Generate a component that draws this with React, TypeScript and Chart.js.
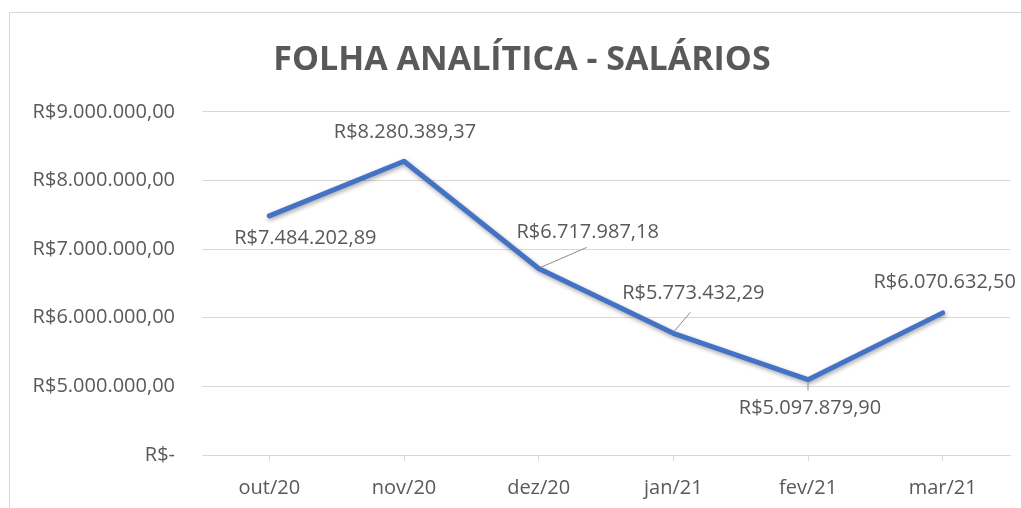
import React, { useEffect, useRef } from "react";
import { Chart, registerables } from "chart.js";

Chart.register(...registerables);

const chartTitle = "FOLHA ANALÍTICA - SALÁRIOS";
const categories = ["out/20", "nov/20", "dez/20", "jan/21", "fev/21", "mar/21"];
const salaries = [7484202.89, 8280389.37, 6717987.18, 5773432.29, 5097879.9, 6070632.5];
const yTickValues = [4000000, 5000000, 6000000, 7000000, 8000000, 9000000];
const yTickLabels = [
  "R$-",
  "R$5.000.000,00",
  "R$6.000.000,00",
  "R$7.000.000,00",
  "R$8.000.000,00",
  "R$9.000.000,00",
];

// data label placement (relative to each point)
const labelOffsets: [number, number][] = [
  [36, 22],
  [1, -29],
  [49, -36],
  [20, -40],
  [2, 29],
  [2, -31],
];
const leaderLines: ([number, number, number, number] | null)[] = [
  null,
  null,
  [2, -1, 48, -21],
  [0, -1, 17, -21],
  [0, 3, 0, 11],
  null,
];

const FONT = "'Open Sans', sans-serif";
const TEXT = "#595959";
const GRID = "#d9d9d9";

function brl(v: number): string {
  const [i, d] = v.toFixed(2).split(".");
  return "R$" + i.replace(/\B(?=(\d{3})+(?!\d))/g, ".") + "," + d;
}

const shadowPlugin = {
  id: "lineShadow",
  beforeDatasetDraw(chart: any) {
    const ctx = chart.ctx;
    ctx.save();
    ctx.shadowColor = "rgba(0,0,0,0.35)";
    ctx.shadowBlur = 4;
    ctx.shadowOffsetX = 1;
    ctx.shadowOffsetY = 2;
  },
  afterDatasetDraw(chart: any) {
    chart.ctx.restore();
  },
};

const labelPlugin = {
  id: "dataLabels",
  afterDatasetsDraw(chart: any) {
    const ctx = chart.ctx;
    const meta = chart.getDatasetMeta(0);
    ctx.save();
    meta.data.forEach((pt: any, i: number) => {
      const ll = leaderLines[i];
      if (ll) {
        ctx.beginPath();
        ctx.strokeStyle = "#8c8c8c";
        ctx.lineWidth = 1;
        ctx.moveTo(pt.x + ll[0], pt.y + ll[1]);
        ctx.lineTo(pt.x + ll[2], pt.y + ll[3]);
        ctx.stroke();
      }
      const [dx, dy] = labelOffsets[i];
      ctx.font = `20px ${FONT}`;
      ctx.fillStyle = TEXT;
      ctx.textAlign = "center";
      ctx.textBaseline = "middle";
      ctx.fillText(brl(salaries[i]), pt.x + dx, pt.y + dy);
    });
    ctx.restore();
  },
};

export default function App() {
  const ref = useRef<HTMLCanvasElement | null>(null);
  useEffect(() => {
    if (!ref.current) return;
    const chart = new Chart(ref.current, {
      type: "line",
      data: {
        labels: categories,
        datasets: [
          {
            data: salaries,
            borderColor: "#4472C4",
            borderWidth: 5,
            pointRadius: 0,
            tension: 0,
            borderJoinStyle: "round",
            borderCapStyle: "round",
          } as any,
        ],
      },
      options: {
        responsive: false,
        animation: false,
        devicePixelRatio: 1,
        layout: { padding: { left: 34, right: 11, top: 0, bottom: 0 } },
        plugins: {
          legend: { display: false },
          tooltip: { enabled: false },
          title: {
            display: true,
            text: chartTitle,
            color: TEXT,
            font: { family: FONT, size: 34, weight: "bold", lineHeight: 1.2 },
            padding: { top: 40, bottom: 31 },
          },
        },
        scales: {
          x: {
            type: "category",
            offset: true,
            afterFit: (s: any) => {
              s.height = 53;
            },
            grid: {
              drawOnChartArea: false,
              drawTicks: true,
              tickLength: 6,
              color: GRID,
            },
            border: { display: true, color: GRID, width: 1 },
            ticks: {
              color: TEXT,
              font: { family: FONT, size: 20 },
              padding: 15,
              maxRotation: 0,
            },
          },
          y: {
            min: yTickValues[0],
            max: yTickValues[yTickValues.length - 1],
            afterFit: (s: any) => {
              s.width = 168;
            },
            afterBuildTicks: (s: any) => {
              s.ticks = yTickValues.map((v) => ({ value: v }));
            },
            grid: { drawTicks: false, color: GRID, lineWidth: 1 },
            border: { display: false },
            ticks: {
              color: TEXT,
              font: { family: FONT, size: 20 },
              padding: 27,
              callback: (v: any) => {
                const idx = yTickValues.indexOf(Number(v));
                return idx >= 0 ? yTickLabels[idx] : "";
              },
            },
          },
        },
      },
      plugins: [shadowPlugin, labelPlugin],
    });
    return () => chart.destroy();
  }, []);

  return (
    <div style={{ position: "fixed", inset: 0, overflow: "hidden", background: "#fff" }}>
      <div
        style={{
          position: "absolute",
          left: 9,
          top: 12,
          right: -10,
          bottom: -10,
          border: "1px solid #d9d9d9",
        }}
      />
      <canvas
        ref={ref}
        width={1021}
        height={508}
        style={{ position: "absolute", left: 0, top: 0, width: 1021, height: 508, display: "block" }}
      />
    </div>
  );
}
